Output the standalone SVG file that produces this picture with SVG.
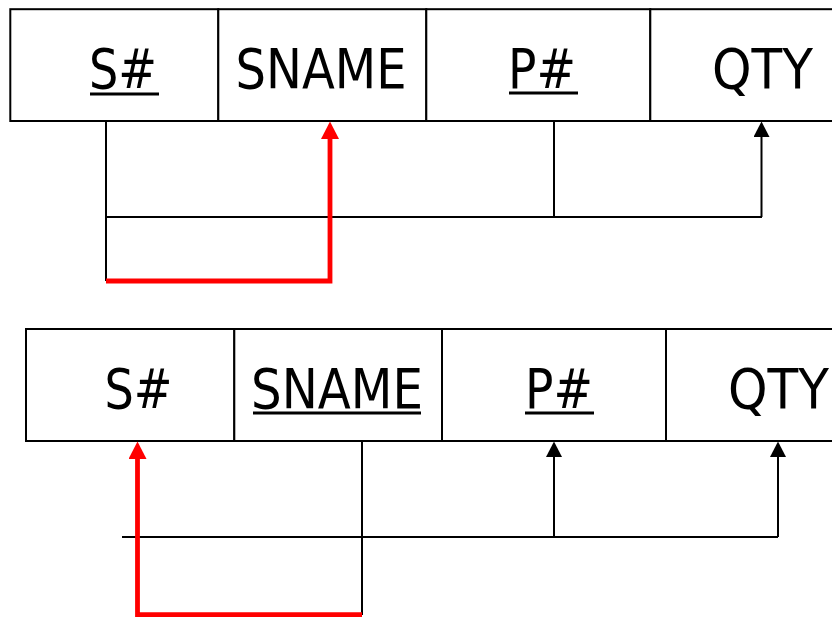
<svg xmlns="http://www.w3.org/2000/svg" width="832" height="617" viewBox="0 0 832 617">
  <style>
    .cell { fill: #ffffff; stroke: #000000; stroke-width: 2; }
    .lbl { font-family: "DejaVu Sans", "Liberation Sans", sans-serif; font-size: 55px; fill: #000000; }
    .key { stroke: #000000; stroke-width: 3; }
    .dep { fill: none; stroke: #000000; stroke-width: 2; }
    .red { fill: none; stroke: #ff0000; stroke-width: 4.8; }
  </style>
  <defs>
    <marker id="arrowBlack" markerUnits="userSpaceOnUse" markerWidth="16" markerHeight="16" refX="2" refY="8" orient="auto">
      <path d="M0,0 L15.5,8 L0,16 z" fill="#000000"/>
    </marker>
    <marker id="arrowRed" markerUnits="userSpaceOnUse" markerWidth="18" markerHeight="18" refX="3" refY="9" orient="auto">
      <path d="M0,0 L17.5,9 L0,18 z" fill="#ff0000"/>
    </marker>
  </defs>
  <rect width="832" height="617" fill="#ffffff"/>

  <!-- upper relation: S#, SNAME, P#, QTY -->
  <g id="r1-sno">
    <rect class="cell" x="10.3" y="9.2" width="208" height="111.8"/>
    <text class="lbl" x="89" y="88" textLength="68" lengthAdjust="spacingAndGlyphs">S#</text>
    <line class="key" x1="90" y1="94" x2="159" y2="94"/>
  </g>
  <g id="r1-sname">
    <rect class="cell" x="218.3" y="9.2" width="208" height="111.8"/>
    <text class="lbl" x="235.5" y="88" textLength="171" lengthAdjust="spacingAndGlyphs">SNAME</text>
  </g>
  <g id="r1-pno">
    <rect class="cell" x="426.3" y="9.2" width="224" height="111.8"/>
    <text class="lbl" x="508" y="88" textLength="68" lengthAdjust="spacingAndGlyphs">P#</text>
    <line class="key" x1="509" y1="93" x2="578" y2="93"/>
  </g>
  <g id="r1-qty">
    <rect class="cell" x="650.3" y="9.2" width="220" height="111.8"/>
    <text class="lbl" x="712" y="88" textLength="101" lengthAdjust="spacingAndGlyphs">QTY</text>
  </g>

  <!-- lower relation: S#, SNAME, P#, QTY -->
  <g id="r2-sno">
    <rect class="cell" x="26" y="329" width="208.3" height="112"/>
    <text class="lbl" x="104.5" y="408" textLength="68" lengthAdjust="spacingAndGlyphs">S#</text>
  </g>
  <g id="r2-sname">
    <rect class="cell" x="234.3" y="329" width="207.7" height="112"/>
    <text class="lbl" x="251" y="408" textLength="172" lengthAdjust="spacingAndGlyphs">SNAME</text>
    <line class="key" x1="253" y1="413" x2="421" y2="413"/>
  </g>
  <g id="r2-pno">
    <rect class="cell" x="442" y="329" width="224" height="112"/>
    <text class="lbl" x="525" y="408" textLength="68" lengthAdjust="spacingAndGlyphs">P#</text>
    <line class="key" x1="525" y1="413" x2="594" y2="413"/>
  </g>
  <g id="r2-qty">
    <rect class="cell" x="666" y="329" width="220" height="112"/>
    <text class="lbl" x="728" y="408" textLength="101" lengthAdjust="spacingAndGlyphs">QTY</text>
  </g>

  <g id="connectors">
    <!-- upper: {S#, P#} -> QTY, S# -> SNAME -->
    <path class="dep" d="M106,121 V281"/>
    <path class="dep" d="M106,217 H762"/>
    <path class="dep" d="M554,121 V217"/>
    <path class="dep" d="M761.5,217 V135" marker-end="url(#arrowBlack)"/>
    <path class="red" d="M106,281 H330 V136" marker-end="url(#arrowRed)"/>

    <!-- lower: {S#, SNAME} -> P#, QTY, SNAME -> S# -->
    <path class="dep" d="M122,537 H778"/>
    <path class="dep" d="M362,441 V615"/>
    <path class="dep" d="M554,537 V455" marker-end="url(#arrowBlack)"/>
    <path class="dep" d="M778,537 V455" marker-end="url(#arrowBlack)"/>
    <path class="red" d="M362,614.7 H137.5 V456" marker-end="url(#arrowRed)"/>
  </g>
</svg>
